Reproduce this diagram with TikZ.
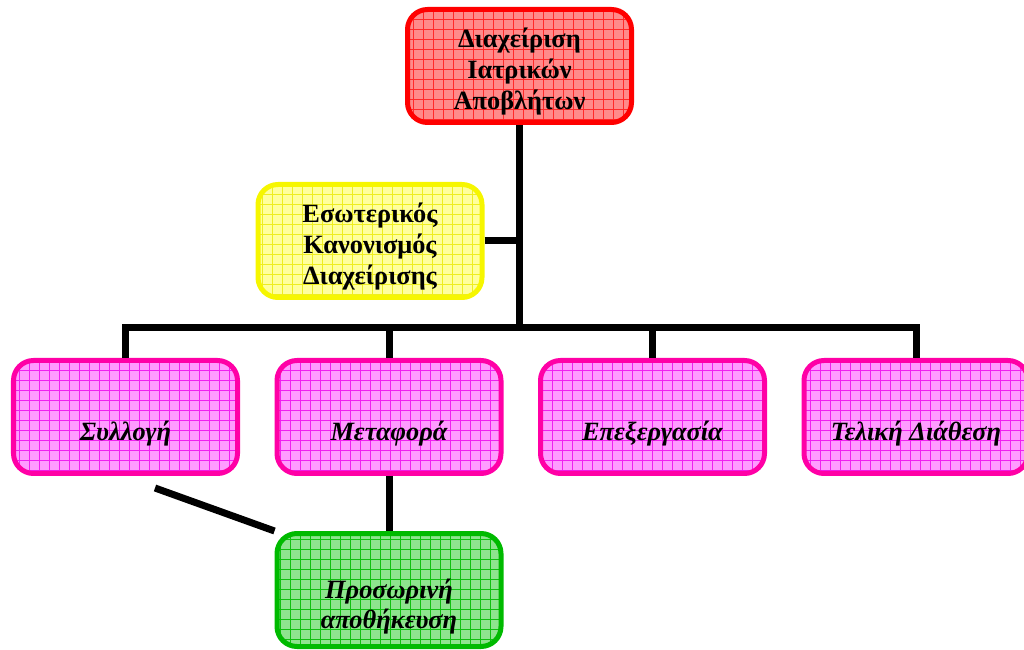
\documentclass[tikz,border=0pt]{standalone}
\usepackage{fontspec}
\setmainfont{Liberation Serif}
\usepackage{tikz}
\usetikzlibrary{calc}
\definecolor{boxred}{HTML}{FF0000}
\definecolor{fillred}{HTML}{FF8A8A}
\definecolor{gridred}{HTML}{FF2A2A}
\definecolor{boxyellow}{HTML}{F6F600}
\definecolor{fillyellow}{HTML}{FFFF9C}
\definecolor{gridyellow}{HTML}{EEEE20}
\definecolor{boxpink}{HTML}{FF00A6}
\definecolor{fillpink}{HTML}{FF9CFF}
\definecolor{gridpink}{HTML}{F020F0}
\definecolor{boxgreen}{HTML}{00BA00}
\definecolor{fillgreen}{HTML}{8EE48E}
\definecolor{gridgreen}{HTML}{10C010}
\newcommand{\topgap}{\rule{0pt}{0.6cm}}
\tikzset{
  box/.style={rounded corners=0.4cm,line width=0.1cm,minimum width=4.48cm,
    minimum height=2.26cm,align=center,
    font=\fontsize{15}{17.6}\selectfont\bfseries},
  gridfill/.style={path picture={\draw[#1,line width=0.5pt,step=0.2cm]
    (path picture bounding box.south west) grid (path picture bounding box.north east);}},
  redbox/.style={box,draw=boxred,fill=fillred,gridfill=gridred},
  yellowbox/.style={box,draw=boxyellow,fill=fillyellow,gridfill=gridyellow},
  pinkbox/.style={box,draw=boxpink,fill=fillpink,gridfill=gridpink,
    font=\fontsize{15}{17.6}\selectfont\bfseries\itshape},
  greenbox/.style={box,draw=boxgreen,fill=fillgreen,gridfill=gridgreen,
    font=\fontsize{15}{17.6}\selectfont\bfseries\itshape},
  link/.style={line width=0.14cm,black}
}
\begin{document}
\begin{tikzpicture}
\useasboundingbox(0,0)rectangle(20.48,12.98);
\node[redbox](mgmt)at(10.39,11.66){\topgap Διαχείριση\\Ιατρικών\\Αποβλήτων}; %top
\node[yellowbox](rules)at(7.40,8.16){\topgap Εσωτερικός\\Κανονισμός\\Διαχείρισης};
\node[pinkbox](coll)at(2.51,4.64){\strut\\Συλλογή};
\node[pinkbox](trans)at(7.78,4.64){\strut\\Μεταφορά};
\node[pinkbox](proc)at(13.05,4.64){\strut\\Επεξεργασία};
\node[pinkbox](disp)at(18.32,4.64){\strut\\Τελική Διάθεση};
\node[greenbox](store)at(7.78,1.18){\strut\\Προσωρινή\\αποθήκευση};
\coordinate(bar)at(0,6.42); %level of the branches
\coordinate(tail)at(3.10,3.22);
%connectors
\draw[link](mgmt.south)--(mgmt.south|-bar);
\draw[link](rules.east)--(rules.east-|mgmt.south);
\draw[link](coll.north)--(coll.north|-bar)--(disp.north|-bar)--(disp.north);
\draw[link](trans.north)--(trans.north|-bar);
\draw[link](proc.north)--(proc.north|-bar);
\draw[link](trans.south)--(store.north);
\draw[link](tail)--(store.north west);
\end{tikzpicture}
\end{document}
